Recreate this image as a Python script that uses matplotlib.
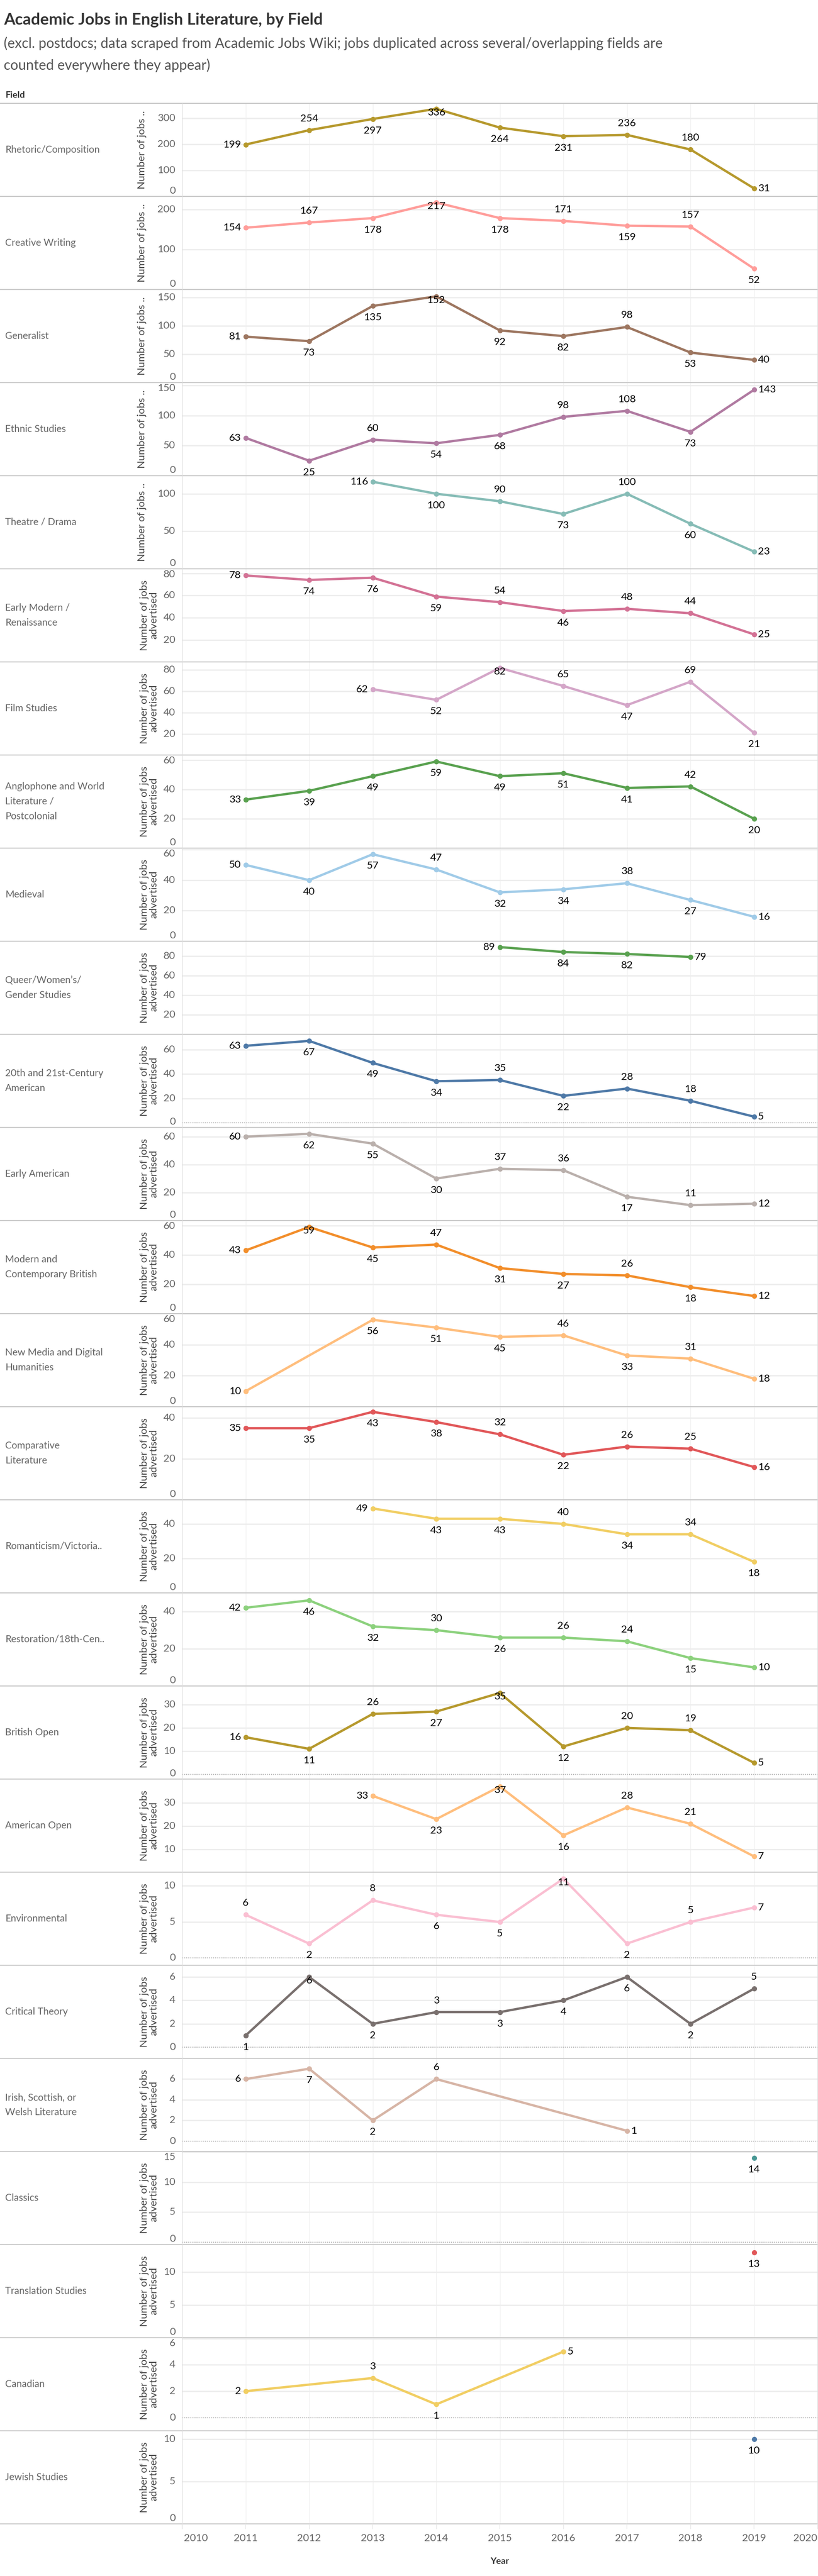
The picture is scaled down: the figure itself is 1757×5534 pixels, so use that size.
import matplotlib
matplotlib.use("Agg")
import matplotlib.pyplot as plt
from matplotlib.lines import Line2D
import matplotlib.transforms as mtransforms

plt.rcParams['font.family'] = ['Lato', 'DejaVu Sans']

N = None
years = [2011, 2012, 2013, 2014, 2015, 2016, 2017, 2018, 2019]

rhetoric = [199, 254, 297, 336, 264, 231, 236, 180, 31]
creative_writing = [154, 167, 178, 217, 178, 171, 159, 157, 52]
generalist = [81, 73, 135, 152, 92, 82, 98, 53, 40]
ethnic = [63, 25, 60, 54, 68, 98, 108, 73, 143]
theatre = [N, N, 116, 100, 90, 73, 100, 60, 23]
early_modern = [78, 74, 76, 59, 54, 46, 48, 44, 25]
film = [N, N, 62, 52, 82, 65, 47, 69, 21]
anglophone = [33, 39, 49, 59, 49, 51, 41, 42, 20]
medieval = [50, 40, 57, 47, 32, 34, 38, 27, 16]
queer = [N, N, N, N, 89, 84, 82, 79, N]
american_20c = [63, 67, 49, 34, 35, 22, 28, 18, 5]
early_american = [60, 62, 55, 30, 37, 36, 17, 11, 12]
modern_british = [43, 59, 45, 47, 31, 27, 26, 18, 12]
new_media = [10, N, 56, 51, 45, 46, 33, 31, 18]
comp_lit = [35, 35, 43, 38, 32, 22, 26, 25, 16]
romanticism = [N, N, 49, 43, 43, 40, 34, 34, 18]
restoration = [42, 46, 32, 30, 26, 26, 24, 15, 10]
british_open = [16, 11, 26, 27, 35, 12, 20, 19, 5]
american_open = [N, N, 33, 23, 37, 16, 28, 21, 7]
environmental = [6, 2, 8, 6, 5, 11, 2, 5, 7]
critical_theory = [1, 6, 2, 3, 3, 4, 6, 2, 5]
irish = [6, 7, 2, 6, N, N, 1, N, N]
classics = [N, N, N, N, N, N, N, N, 14]
translation = [N, N, N, N, N, N, N, N, 13]
canadian = [2, N, 3, 1, N, 5, N, N, N]
jewish = [N, N, N, N, N, N, N, N, 10]

fields = ["Rhetoric/Composition", "Creative Writing", "Generalist", "Ethnic Studies",
          "Theatre / Drama", "Early Modern /\nRenaissance", "Film Studies",
          "Anglophone and World\nLiterature /\nPostcolonial", "Medieval",
          "Queer/Women\u2019s/\nGender Studies", "20th and 21st-Century\nAmerican",
          "Early American", "Modern and\nContemporary British",
          "New Media and Digital\nHumanities", "Comparative\nLiterature",
          "Romanticism/Victoria..", "Restoration/18th-Cen..", "British Open",
          "American Open", "Environmental", "Critical Theory",
          "Irish, Scottish, or\nWelsh Literature", "Classics", "Translation Studies",
          "Canadian", "Jewish Studies"]
series = [rhetoric, creative_writing, generalist, ethnic, theatre, early_modern, film,
          anglophone, medieval, queer, american_20c, early_american, modern_british,
          new_media, comp_lit, romanticism, restoration, british_open, american_open,
          environmental, critical_theory, irish, classics, translation, canadian, jewish]

colors = ["#B6992D", "#FF9D9A", "#9D7660", "#B07AA1", "#86BCB6", "#D37295", "#D4A6C8",
          "#59A14F", "#A0CBE8", "#59A14F", "#4E79A7", "#BAB0AC", "#F28E2B", "#FFBE7D",
          "#E15759", "#F1CE63", "#8CD17D", "#B6992D", "#FFBE7D", "#FABFD2", "#79706E",
          "#D7B5A6", "#499894", "#E15759", "#F1CE63", "#4E79A7"]

# axis ranges and ticks
ylims = [(0, 357), (0, 232), (0, 164), (0, 155), (0, 124), (0.2, 84), (0.2, 87.6),
         (0, 63.4), (0, 61), (0.3, 95), (-3.8, 72.4), (0, 66.6), (0, 63.4), (0, 60),
         (0, 45.5), (0, 54), (0, 50), (-2, 38), (0.2, 40.2), (-1, 11.9), (-0.95, 7.0),
         (-1, 8), (-0.4, 15.1), (0, 14.2), (-1, 6.06), (0, 11)]
yticks = [[0, 100, 200, 300], [0, 100, 200], [0, 50, 100, 150], [0, 50, 100, 150],
          [0, 50, 100], [20, 40, 60, 80], [20, 40, 60, 80], [0, 20, 40, 60],
          [0, 20, 40, 60], [20, 40, 60, 80], [0, 20, 40, 60], [0, 20, 40, 60],
          [0, 20, 40, 60], [0, 20, 40, 60], [0, 20, 40], [0, 20, 40], [0, 20, 40],
          [0, 10, 20, 30], [10, 20, 30], [0, 5, 10], [0, 2, 4, 6], [0, 2, 4, 6],
          [0, 5, 10, 15], [0, 5, 10], [0, 2, 4, 6], [0, 5, 10]]

# label side per drawn point: a=above b=below l=left r=right o=on point
label_sides = ["labobbaar", "labobabab", "lbbobbabr", "lbabbaabr", "lbababr",
               "lbbbabaar", "lboabab", "lbbbbbbab", "lbbabbabr", "lbbr", "lbbbabaar",
               "lbbbaabar", "lobabbabr", "lbbbabar", "lbbbabaar", "lbbabab",
               "lbbabaabr", "lbabobaar", "lbobaar", "ababbobar", "bobabbbba", "lbbar",
               "b", "b", "labr", "b"]

W, H = 1758, 5534
fig = plt.figure(figsize=(W / 100, H / 100), dpi=100)


def fx(px):
    return px / W


def fy(py):
    return 1 - py / H


PL, PR = 391, 1756
TOP0, PH = 222, 200
grid_c = "#ededed"
sep_c = "#c8c8c8"

fig.text(fx(8), fy(43), "Academic Jobs in English Literature, by Field", fontsize=25,
         fontweight="bold", color="#333333", va="center")
fig.text(fx(8), fy(93), "(excl. postdocs; data scraped from Academic Jobs Wiki; jobs duplicated "
         "across several/overlapping fields are", fontsize=21.5, color="#555555", va="center")
fig.text(fx(8), fy(140), "counted everywhere they appear)", fontsize=21.5, color="#555555",
         va="center")
fig.text(fx(11), fy(205), "Field", fontsize=14, fontweight="bold", color="#333333",
         va="center")

offsets = {"a": (0, 18, "center", "center"), "b": (0, -18, "center", "center"),
           "l": (-7, 0, "right", "center"), "r": (6, 0, "left", "center"),
           "o": (0, -6, "center", "center")}

for i, (name, vals) in enumerate(zip(fields, series)):
    top = TOP0 + PH * i
    bot = top + PH
    ax = fig.add_axes([fx(PL), fy(bot), fx(PR) - fx(PL), PH / H])
    ax.set_xlim(2010, 2020)
    lo, hi = ylims[i]
    ax.set_ylim(lo, hi)
    for s in ax.spines.values():
        s.set_visible(False)
    ax.set_xticks([])
    ax.set_yticks([])
    ax.patch.set_alpha(0)

    for yr in range(2011, 2020):
        ax.axvline(yr, color="#f0f0f0", lw=1, zorder=0)
    for t in yticks[i]:
        if t != 0 or lo >= 0:
            ax.axhline(t, color=grid_c, lw=2, zorder=0)
        frac = (t - lo) / (hi - lo)
        frac = min(max(frac, 12 / PH), 1 - 12 / PH)
        ax.text(-14 / (PR - PL), frac, str(t), transform=ax.transAxes, ha="right",
                va="center", fontsize=16, color="#666666")
    if lo < 0:
        ax.axhline(0, color="#bbbbbb", lw=1.6, ls=(0, (1, 1)), zorder=1)

    xs = [y for y, v in zip(years, vals) if v is not None]
    ys = [v for v in vals if v is not None]
    ax.plot(xs, ys, color=colors[i], lw=3.6, marker="o", ms=7, solid_joinstyle="round",
            solid_capstyle="round", zorder=3, clip_on=False)
    for (x, y), side in zip(zip(xs, ys), label_sides[i]):
        dx, dy, ha, va = offsets[side]
        ax.annotate(str(y), (x, y), xytext=(dx, dy), textcoords="offset points",
                    ha=ha, va=va, fontsize=16, color="black", zorder=4)

    # field label and axis title
    fig.text(fx(11), fy(top + PH / 2), name, fontsize=15, color="#666666", va="center",
             ha="left", linespacing=1.75)
    if i < 5:
        fig.text(fx(305), fy(top + PH / 2), "Number of jobs ..", rotation=90, fontsize=16,
                 color="#444444", ha="center", va="center")
    else:
        fig.text(fx(320), fy(top + PH / 2), "Number of jobs\nadvertised", rotation=90,
                 fontsize=16, color="#444444", ha="center", va="center", linespacing=1.05)

    fig.add_artist(Line2D([0, fx(PR)], [fy(top), fy(top)], color=sep_c, lw=1.6))

last = TOP0 + PH * len(fields)
fig.add_artist(Line2D([0, fx(PR)], [fy(last), fy(last)], color=sep_c, lw=1.6))
fig.add_artist(Line2D([fx(PL), fx(PL)], [fy(TOP0), fy(last + 10)], color="#dddddd", lw=1))
fig.add_artist(Line2D([fx(PR), fx(PR)], [fy(TOP0), fy(last + 10)], color="#dddddd", lw=1))

# x axis at the bottom
for yr in range(2010, 2021):
    px = PL + (yr - 2010) / 10 * (PR - PL)
    fig.add_artist(Line2D([fx(px), fx(px)], [fy(last), fy(last + 10)], color="#e6e6e6",
                          lw=1))
    ha = "center"
    if yr == 2010:
        ha = "left"
        px += 4
    elif yr == 2020:
        ha = "right"
    fig.text(fx(px), fy(5453), str(yr), fontsize=16, color="#666666", ha=ha, va="center")
fig.text(fx((PL + PR) / 2), fy(5502), "Year", fontsize=14, fontweight="bold",
         color="#333333", ha="center", va="center")

fig.savefig("out.png", dpi=100)
